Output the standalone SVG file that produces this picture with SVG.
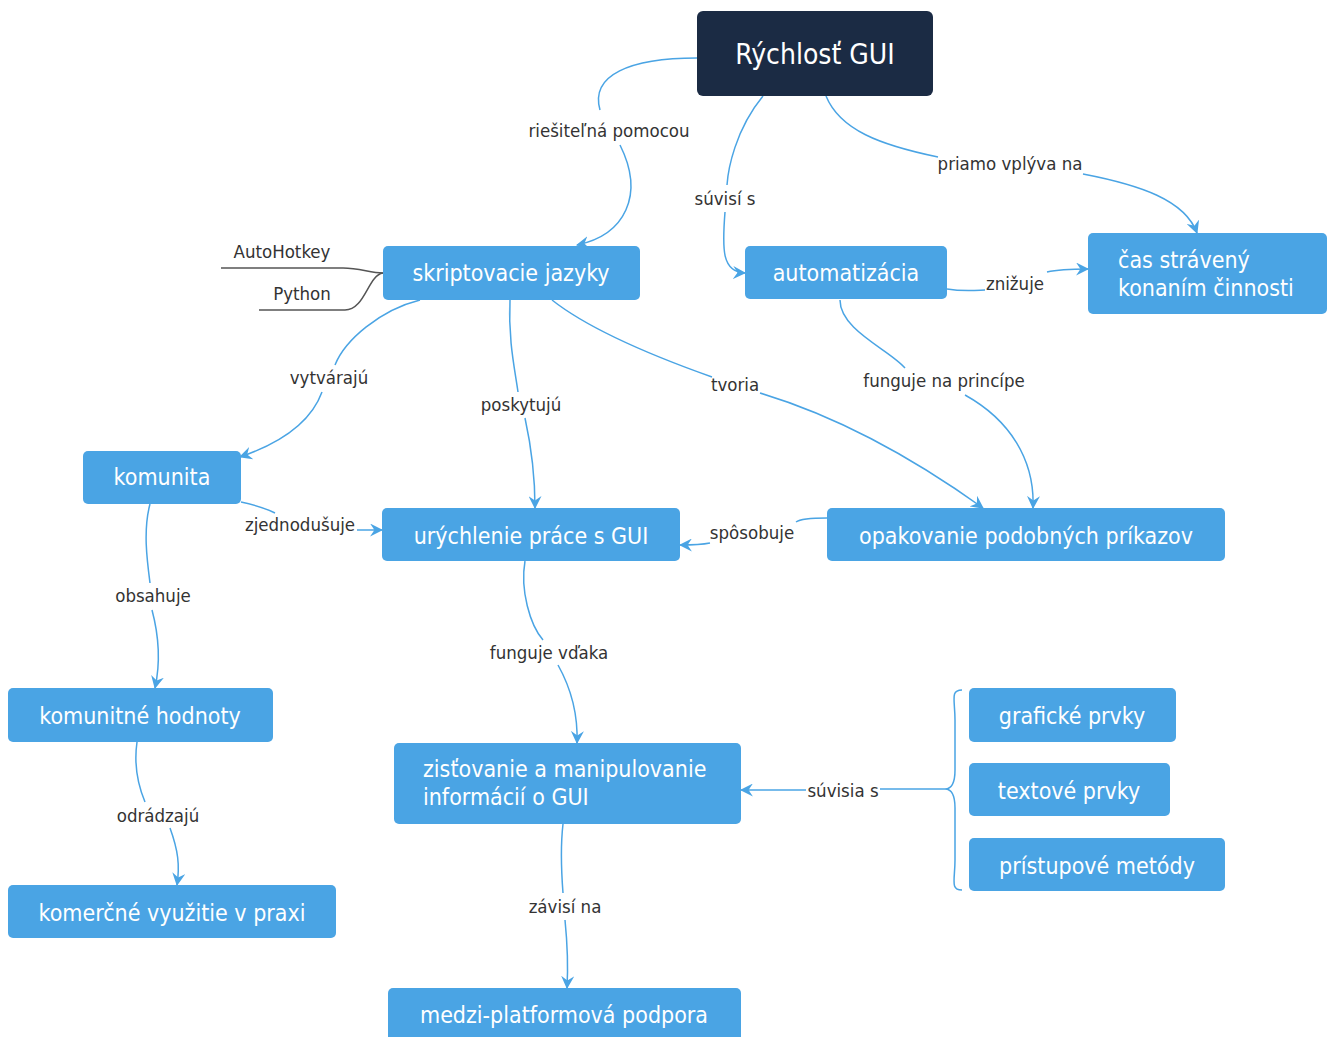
<svg xmlns="http://www.w3.org/2000/svg" width="1333" height="1037" viewBox="0 0 1333 1037">
<defs>
<style>
.n rect{fill:#4aa4e4;}
.n text{fill:#fff;font-family:"DejaVu Sans Condensed","DejaVu Sans",sans-serif;font-size:23px;}
.e path{fill:none;stroke:#4aa4e4;stroke-width:1.5;}
.e path.a{marker-end:url(#ah);}
.g path{fill:none;stroke:#555;stroke-width:1.5;}
.l text{fill:#333;font-family:"DejaVu Sans Condensed","DejaVu Sans",sans-serif;font-size:18.5px;text-anchor:middle;}
.m{text-anchor:middle;}
</style>
<marker id="ah" viewBox="0 0 12 12" refX="11" refY="6" markerWidth="13" markerHeight="13" markerUnits="userSpaceOnUse" orient="auto">
<path d="M0,0 L12,6 L0,12 L4,6 z" fill="#4aa4e4"/>
</marker>
</defs>
<rect width="1333" height="1037" fill="#fff"/>

<g id="connectors" class="e">
<path d="M697,58 C630,58 590,75 600,110"/>
<path class="a" d="M620,145 C645,195 625,235 577,245"/>
<path d="M763,96 C735,130 728,170 727,185"/>
<path class="a" d="M725,212 C722,250 722,272 745,273"/>
<path d="M826,96 C840,130 880,145 938,157"/>
<path class="a" d="M1083,174 C1140,185 1185,200 1197,233"/>
<path d="M947,289 C965,292 980,290 985,290"/>
<path class="a" d="M1047,272 C1060,269 1075,269 1088,269"/>
<path d="M840,300 C840,330 890,350 905,368"/>
<path class="a" d="M965,395 C1010,420 1035,460 1033,508"/>
<path d="M552,300 C590,330 650,355 712,377"/>
<path class="a" d="M760,393 C850,420 930,470 983,508"/>
<path d="M510,300 C508,340 515,370 518,392"/>
<path class="a" d="M525,418 C532,450 535,480 535,508"/>
<path d="M420,300 C380,310 345,340 335,365"/>
<path class="a" d="M322,392 C310,425 275,445 240,457"/>
<path d="M241,502 C255,505 265,508 275,513"/>
<path class="a" d="M357,530 C365,530 372,530 382,530"/>
<path d="M827,518 C810,518 800,519 796,522"/>
<path class="a" d="M710,543 C700,545 690,545 680,545"/>
<path d="M150,504 C143,530 147,560 150,583"/>
<path class="a" d="M152,610 C160,640 160,665 155,688"/>
<path d="M525,561 C520,590 530,625 543,640"/>
<path class="a" d="M558,665 C572,690 578,715 577,743"/>
<path d="M137,742 C133,770 140,790 145,802"/>
<path class="a" d="M170,828 C178,850 180,865 177,885"/>
<path d="M563,824 C560,850 562,880 563,893"/>
<path class="a" d="M565,920 C568,950 568,970 567,988"/>
<path d="M945,789 C920,789 900,789 880,789"/>
<path class="a" d="M806,790 C780,790 760,790 741,790"/>
<path d="M962,690 C950,690 955,700 955,720 L955,770 C955,785 950,789 945,789 C950,789 955,793 955,808 L955,860 C955,880 950,890 962,890"/>
</g>

<g id="subtopics" class="g">
<path d="M221,268 L343,268 C360,268 370,273 383,273"/>
<path d="M259,310 L345,310 C365,310 368,275 383,273"/>
</g>

<g id="labels" class="l">
<text x="609" y="137">riešiteľná pomocou</text>
<text x="725" y="205">súvisí s</text>
<text x="1010" y="170">priamo vplýva na</text>
<text x="1015" y="290">znižuje</text>
<text x="944" y="387">funguje na princípe</text>
<text x="735" y="391">tvoria</text>
<text x="521" y="411">poskytujú</text>
<text x="329" y="384">vytvárajú</text>
<text x="300" y="531">zjednodušuje</text>
<text x="752" y="539">spôsobuje</text>
<text x="153" y="602">obsahuje</text>
<text x="549" y="659">funguje vďaka</text>
<text x="158" y="822">odrádzajú</text>
<text x="565" y="913">závisí na</text>
<text x="843" y="797">súvisia s</text>
<text x="282" y="258">AutoHotkey</text>
<text x="302" y="300">Python</text>
</g>

<g id="n-root" class="n"><rect x="697" y="11" width="236" height="85" rx="6" style="fill:#1b2b44"/><text class="m" x="815" y="64" style="font-size:28px">Rýchlosť GUI</text></g>
<g id="n-skript" class="n"><rect x="383" y="246" width="257" height="54" rx="5"/><text class="m" x="511" y="281">skriptovacie jazyky</text></g>
<g id="n-auto" class="n"><rect x="745" y="246" width="202" height="53" rx="5"/><text class="m" x="846" y="281">automatizácia</text></g>
<g id="n-cas" class="n"><rect x="1088" y="233" width="239" height="81" rx="5"/><text x="1118" y="268">čas strávený</text><text x="1118" y="296">konaním činnosti</text></g>
<g id="n-komunita" class="n"><rect x="83" y="451" width="158" height="53" rx="5"/><text class="m" x="162" y="485">komunita</text></g>
<g id="n-urych" class="n"><rect x="382" y="508" width="298" height="53" rx="5"/><text class="m" x="531" y="544">urýchlenie práce s GUI</text></g>
<g id="n-opak" class="n"><rect x="827" y="508" width="398" height="53" rx="5"/><text class="m" x="1026" y="544">opakovanie podobných príkazov</text></g>
<g id="n-hodnoty" class="n"><rect x="8" y="688" width="265" height="54" rx="5"/><text class="m" x="140" y="724">komunitné hodnoty</text></g>
<g id="n-zist" class="n"><rect x="394" y="743" width="347" height="81" rx="5"/><text x="423" y="777">zisťovanie a manipulovanie</text><text x="423" y="805">informácií o GUI</text></g>
<g id="n-komer" class="n"><rect x="8" y="885" width="328" height="53" rx="5"/><text class="m" x="172" y="921">komerčné využitie v praxi</text></g>
<g id="n-medzi" class="n"><rect x="388" y="988" width="353" height="60" rx="5"/><text class="m" x="564" y="1023">medzi-platformová podpora</text></g>
<g id="n-graf" class="n"><rect x="969" y="688" width="207" height="54" rx="5"/><text class="m" x="1072" y="724">grafické prvky</text></g>
<g id="n-text" class="n"><rect x="969" y="763" width="201" height="53" rx="5"/><text class="m" x="1069" y="799">textové prvky</text></g>
<g id="n-prist" class="n"><rect x="969" y="838" width="256" height="53" rx="5"/><text class="m" x="1097" y="874">prístupové metódy</text></g>
</svg>
